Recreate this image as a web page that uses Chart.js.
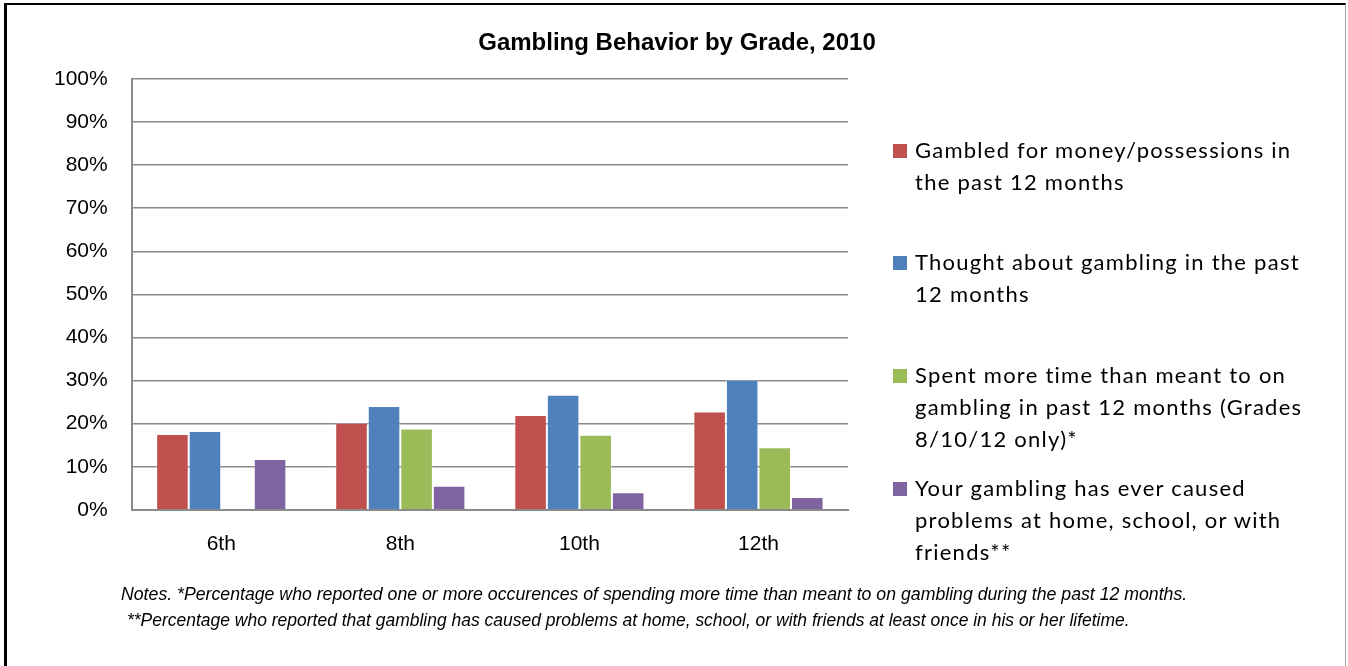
<!DOCTYPE html>
<html>
<head>
<meta charset="utf-8">
<script src="https://cdn.jsdelivr.net/npm/chart.js@4.4.1/dist/chart.umd.min.js"></script>
<style>
  html, body { margin: 0; padding: 0; background: #fff; }
  #wrap { position: relative; width: 1348px; height: 666px; overflow: hidden; }
  #frame { position: absolute; left: 4px; top: 3px; width: 1342px; height: 680px;
           border-left: 3px solid #000; border-top: 2px solid #000; border-right: 1px solid #a6a6a6; box-sizing: border-box; }
  #cv { position: absolute; left: 0; top: 0; }
  #title { position: absolute; left: 0; width: 1354px; top: 28px; text-align: center;
           font-family: "Liberation Sans", Arial, sans-serif; font-weight: bold; font-size: 24px; line-height: 28px; color: #000; }
  .leg { position: absolute; left: 893px; font-family: Lato, "Open Sans", sans-serif; font-size: 22px; line-height: 32px;
         letter-spacing: 1.25px; color: #000; }
  .leg .box { position: absolute; left: 0; top: 10px; width: 14px; height: 14px; }
  .leg .txt { position: absolute; left: 22px; top: 0; white-space: nowrap; }
  .note { position: absolute; font-family: "Liberation Sans", Arial, sans-serif; font-style: italic; font-size: 18px;
          white-space: nowrap; transform-origin: 0 0; color: #000; }
</style>
</head>
<body>
<div id="wrap">
  <canvas id="cv" width="1348" height="666"></canvas>
  <div id="frame"></div>
  <div id="title"></div>
  <div id="legend"></div>
  <div id="notes"></div>
</div>
<script>
// ---- data ----
const grades = ["6th", "8th", "10th", "12th"];
const seriesLabels = [
  ["Gambled for money/possessions in", "the past 12 months"],
  ["Thought about gambling in the past", "12 months"],
  ["Spent more time than meant to on", "gambling in past 12 months (Grades", "8/10/12 only)*"],
  ["Your gambling has ever caused", "problems at home, school, or with", "friends**"]
];
const gambledPct   = [17.6, 20.2, 22.0, 22.8];
const thoughtPct   = [18.3, 24.1, 26.7, 30.2];
const spentMorePct = [null, 18.9, 17.4, 14.5];
const problemsPct  = [11.8, 5.6, 4.1, 3.0];
const yTicks = [0, 10, 20, 30, 40, 50, 60, 70, 80, 90, 100];
const titleText = "Gambling Behavior by Grade, 2010";
const notesText = [
  "Notes. *Percentage who reported one or more occurences of spending more time than meant to on gambling during the past 12 months.",
  "**Percentage who reported that gambling has caused problems at home, school, or with friends at least once in his or her lifetime."
];

const colors = ["#C0504D", "#4F81BD", "#9BBB59", "#8064A2"];
const values = [gambledPct, thoughtPct, spentMorePct, problemsPct];

const datasets = values.map((v, i) => ({
  label: seriesLabels[i].join(" "),
  data: v,
  backgroundColor: colors[i],
  borderColor: "rgba(255,255,255,0.35)",
  borderWidth: 1,
  barPercentage: 1.0,
  categoryPercentage: 0.727
}));

const gridColor = "#8a8a8a";

new Chart(document.getElementById("cv"), {
  type: "bar",
  data: { labels: grades, datasets },
  options: {
    responsive: false,
    animation: false,
    devicePixelRatio: 1,
    layout: { padding: { left: 30, right: 500, top: 79, bottom: 87 } },
    plugins: {
      legend: { display: false },
      tooltip: { enabled: false },
      title: { display: false }
    },
    scales: {
      x: {
        grid: { display: false, drawTicks: false },
        border: { display: true, color: gridColor, width: 2 },
        ticks: { color: "#000", padding: 22, font: { family: "'Liberation Sans', Arial, sans-serif", size: 21 } }
      },
      y: {
        min: 0, max: 100,
        afterBuildTicks: (axis) => { axis.ticks = yTicks.map(v => ({ value: v })); },
        grid: { color: gridColor, lineWidth: 1.6, drawTicks: false },
        border: { display: true, color: gridColor, width: 2 },
        ticks: { color: "#000", padding: 24, callback: (v) => v + "%",
                 font: { family: "'Liberation Sans', Arial, sans-serif", size: 21 } }
      }
    }
  }
});

document.getElementById("title").textContent = titleText;

// ---- HTML legend ----
const legendTops = [134, 246, 359, 472];
const legendEl = document.getElementById("legend");
seriesLabels.forEach((lines, i) => {
  const d = document.createElement("div");
  d.className = "leg";
  d.style.top = legendTops[i] + "px";
  d.innerHTML = '<div class="box" style="background:' + colors[i] + '"></div><div class="txt">' + lines.join("<br>") + "</div>";
  legendEl.appendChild(d);
});

// ---- notes ----
const noteLayout = [ { x: 121, y: 584, w: 1066 }, { x: 127, y: 610, w: 1003 } ];
const notesEl = document.getElementById("notes");
const mctx = document.createElement("canvas").getContext("2d");
mctx.font = "italic 18px 'Liberation Sans', Arial, sans-serif";
notesText.forEach((t, i) => {
  const d = document.createElement("div");
  d.className = "note";
  d.textContent = t;
  d.style.left = noteLayout[i].x + "px";
  d.style.top = noteLayout[i].y + "px";
  const sx = noteLayout[i].w / mctx.measureText(t).width;
  d.style.transform = "scaleX(" + sx.toFixed(3) + ")";
  notesEl.appendChild(d);
});
</script>
</body>
</html>
